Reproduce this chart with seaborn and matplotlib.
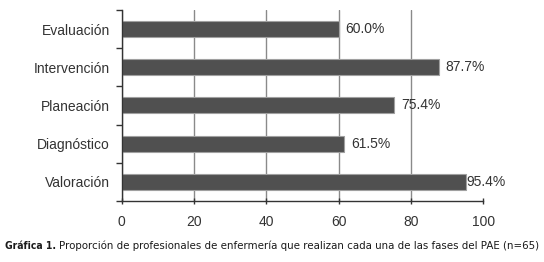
import matplotlib
matplotlib.use('Agg')
import pandas as pd
import seaborn as sns
import matplotlib.pyplot as plt

# Data
fases = ['Evaluación', 'Intervención', 'Planeación', 'Diagnóstico', 'Valoración']
porcentajes = [60.0, 87.7, 75.4, 61.5, 95.4]
etiquetas = ['60.0%', '87.7%', '75.4%', '61.5%', '95.4%']

df = pd.DataFrame({'fase': fases, 'pct': porcentajes})

sns.set_style('white')
plt.rcParams['font.family'] = ['Liberation Sans', 'DejaVu Sans']

fig = plt.figure(figsize=(5.44, 2.62), dpi=100)
ax = fig.add_axes([0.224, 0.233, 0.664, 0.729])

sns.barplot(data=df, x='pct', y='fase', orient='h', color='#505050',
            width=0.42, edgecolor='#a0a0a0', linewidth=0.8, saturation=1, ax=ax)

for i, (v, t) in enumerate(zip(porcentajes, etiquetas)):
    ax.annotate(t, xy=(v, i), xytext=(5 if v < 95 else 0, 0), textcoords='offset points',
                va='center', ha='left', fontsize=10, color='#333333')

ax.set_xlim(0, 100)
ax.set_ylim(4.5, -0.5)
ax.set_xticks([0, 20, 40, 60, 80, 100])
ax.set_yticks([-0.5, 0.5, 1.5, 2.5, 3.5, 4.5], minor=False)
ax.set_yticklabels([])
ax.set_yticks(range(5), minor=True)
ax.set_yticklabels(fases, minor=True)
ax.tick_params(axis='y', which='major', left=True, length=4, width=1, direction='out', color='#333333')
ax.tick_params(axis='y', which='minor', left=False, length=0, pad=8.5, labelsize=10, labelcolor='#333333')
ax.tick_params(axis='x', bottom=True, length=4, width=1, direction='inout', color='#333333', labelsize=10,
               labelcolor='#333333', pad=8)
ax.grid(axis='x', color='#8a8a8a', linewidth=1)
ax.xaxis.get_gridlines()[-1].set_visible(False)
ax.set_axisbelow(True)
ax.set_xlabel('')
ax.set_ylabel('')
for s in ['top', 'right']:
    ax.spines[s].set_visible(False)
for s in ['left', 'bottom']:
    ax.spines[s].set_color('#333333')
    ax.spines[s].set_linewidth(1)

# Caption
fig.canvas.draw()
cap_font = ['DejaVu Sans', 'Liberation Sans']
t1 = fig.text(0.009, 0.048, 'Gráfica 1.', fontsize=7.45, fontweight='bold',
              color='#1a1a1a', family=cap_font, fontstretch='condensed')
bb = t1.get_window_extent(fig.canvas.get_renderer())
x2 = bb.x1 / fig.bbox.width + 0.006
fig.text(x2, 0.048,
         'Proporción de profesionales de enfermería que realizan cada una de las fases del PAE (n=65)',
         fontsize=7.4, color='#1a1a1a', family=cap_font)

plt.savefig('out.png', dpi=100)
plt.close()
